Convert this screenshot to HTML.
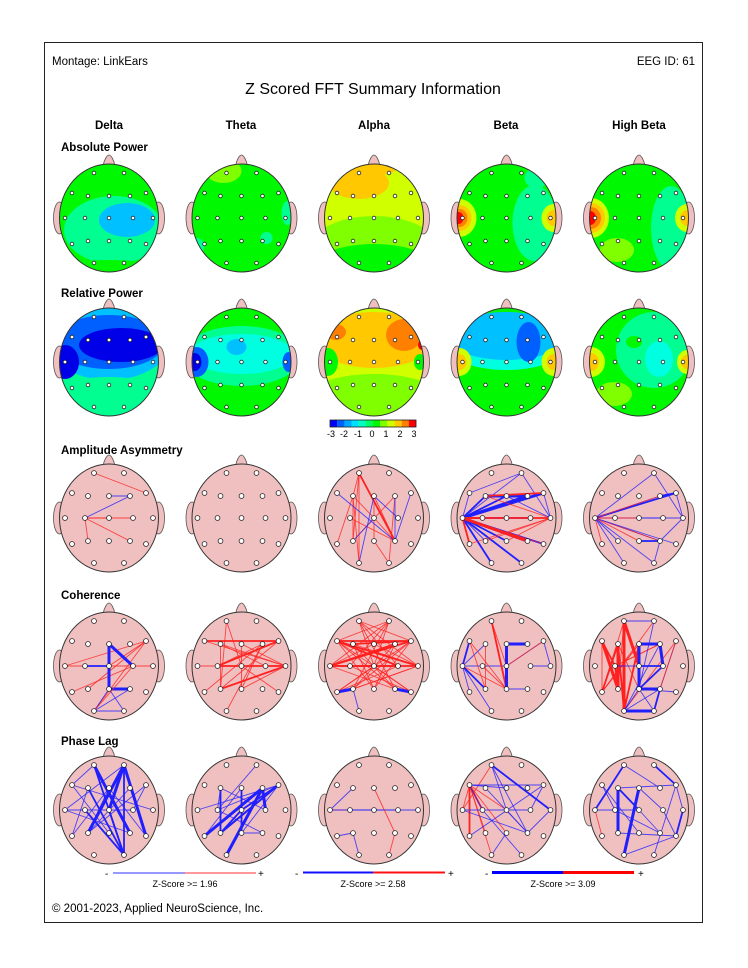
<!DOCTYPE html>
<html><head><meta charset="utf-8"><style>
body{margin:0;background:#fff;width:748px;height:968px;overflow:hidden;font-family:"Liberation Sans",Arial,sans-serif}
svg{position:absolute;left:0;top:0}
</style></head><body>
<svg id="s" width="748" height="968" viewBox="0 0 748 968" font-family="Liberation Sans, Arial, sans-serif">
<rect x="44.5" y="42.5" width="658" height="880" fill="#fff" stroke="#222" stroke-width="1"/>
<text x="52" y="65" font-size="11.5">Montage:  LinkEars</text>
<text x="695" y="65" font-size="11.5" text-anchor="end">EEG ID:  61</text>
<text x="373" y="94" font-size="16" text-anchor="middle">Z Scored FFT Summary Information</text>
<g font-size="11.5" font-weight="bold" text-anchor="middle">
<text x="109" y="129">Delta</text><text x="241" y="129">Theta</text><text x="374" y="129">Alpha</text><text x="506" y="129">Beta</text><text x="639" y="129">High Beta</text>
</g>
<g font-size="11.5" font-weight="bold">
<text x="61" y="151">Absolute Power</text><text x="61" y="297">Relative Power</text><text x="61" y="454">Amplitude Asymmetry</text><text x="61" y="599">Coherence</text><text x="61" y="745">Phase Lag</text>
</g>
<g id="heads"></g>
<g id="cb"></g>
<g font-size="9" text-anchor="middle">
<text x="331" y="437">-3</text><text x="344" y="437">-2</text><text x="358" y="437">-1</text><text x="372" y="437">0</text><text x="386" y="437">1</text><text x="400" y="437">2</text><text x="414" y="437">3</text>
</g>
<g font-size="10">
<text x="105" y="877">-</text><text x="258" y="877">+</text><text x="185" y="887" text-anchor="middle" font-size="9">Z-Score &gt;= 1.96</text>
<text x="295" y="877">-</text><text x="448" y="877">+</text><text x="373" y="887" text-anchor="middle" font-size="9">Z-Score &gt;= 2.58</text>
<text x="485" y="877">-</text><text x="638" y="877">+</text><text x="563" y="887" text-anchor="middle" font-size="9">Z-Score &gt;= 3.09</text>
</g>
<line x1="113" y1="873" x2="185" y2="873" stroke="#3030ff" stroke-width="1"/><line x1="185" y1="873" x2="256" y2="873" stroke="#ff3030" stroke-width="1"/>
<line x1="303" y1="872.5" x2="373" y2="872.5" stroke="#1010ff" stroke-width="2"/><line x1="373" y1="872.5" x2="445" y2="872.5" stroke="#ff1010" stroke-width="2"/>
<line x1="492" y1="872.5" x2="563" y2="872.5" stroke="#0000ff" stroke-width="3"/><line x1="563" y1="872.5" x2="634" y2="872.5" stroke="#ff0000" stroke-width="3"/>
<text x="52" y="912" font-size="11.5">© 2001-2023, Applied NeuroScience, Inc.</text>
</svg>
<script>
var NS="http://www.w3.org/2000/svg";
function el(t,a,p){var e=document.createElementNS(NS,t);for(var k in a)e.setAttribute(k,a[k]);p.appendChild(e);return e;}
var E={Fp1:[-15,-45],Fp2:[15,-45],F7:[-37,-25],F3:[-21,-22],Fz:[0,-22],F4:[21,-22],F8:[37,-25],T3:[-44,0],C3:[-24,0],Cz:[0,0],C4:[24,0],T4:[44,0],T5:[-37,26],P3:[-21,23],Pz:[0,23],P4:[21,23],T6:[37,26],O1:[-15,45],O2:[15,45]};
var CX=[109,241.5,374,506.5,639],CY=[218,362,518,666,810],RX=49.5,RY=54;
var C={B:"#0000e8",b:"#0060ff",c:"#00c0ff",a:"#00ffe0",t:"#00ff90",g:"#00f800",l:"#80ff00",y:"#d0ff00",o:"#ffc800",O:"#ff8000",R:"#ff0000"};
var maps=[
[["g"],["t",5,12,50,34],["c",18,2,28,17],["g",-10,-50,60,14],["g",0,52,60,10]],
[["g"],["l",-18,-47,18,12],["t",46,-5,6,12],["t",25,20,6,6],["t",-45,28,8,8]],
[["y"],["l",0,38,70,40],["g",0,58,70,32],["o",-15,-35,30,16],["o",-5,-52,30,10]],
[["g"],["t",28,5,22,38],["t",30,-40,12,10],["y",-47,0,17,19],["o",-47,0,12,13],["O",-47,0,8,9],["R",-48,0,5,6],["y",47,0,12,14],["o",47,0,7,8]],
[["g"],["t",32,10,20,42],["l",-22,32,17,12],["y",-48,0,18,20],["o",-48,0,14,15],["O",-48,0,10,11],["R",-49,0,6,7],["y",48,0,12,14],["o",48,0,7,8]],
[["t"],["c",0,-22,62,40],["b",0,-20,56,27],["B",12,-17,42,17],["B",-44,0,14,17],["t",0,40,70,25]],
[["g"],["t",0,-6,60,30],["a",0,-8,52,20],["c",-5,-15,10,8],["b",-45,0,12,15],["B",-47,0,7,9],["b",47,0,6,10]],
[["y"],["l",0,38,70,26],["o",0,-22,60,28],["O",30,-27,18,16],["O",-38,-30,10,8],["R",48,-17,4,5],["g",-46,0,10,14],["g",46,0,6,8]],
[["g"],["a",0,-18,62,26],["c",0,-26,60,24],["b",22,-20,12,20],["y",-47,0,12,14],["o",-47,0,7,8],["y",47,0,12,14],["o",47,0,7,8]],
[["g"],["t",15,-12,38,38],["a",20,-3,14,18],["g",-5,-20,8,6],["y",-48,0,14,15],["o",-48,0,8,9],["y",48,0,10,12],["o",48,0,6,7],["l",-25,32,18,12]]
];
var links=[
["r1 Fp1 F8","b1 Fz F4","b1 C3 F4","r1 C3 Cz","r1 C3 C4","r1 C3 P3","r1 C3 P4"],
[],
["r1 Fp1 P3","r1 Fp1 O1","r2 Fp1 P4","r1 Fp1 F3","r1 F3 P3","r1 F3 O1","r1 F3 Cz","r1 Fz P4","r1 Fz Pz","r1 F4 P3","r1 Cz P4","r1 C3 P4","r1 F4 O2","r1 T5 F3","r1 Pz O2","b1 F7 P4","b1 Fz O1","b1 Cz P3","b1 F4 P4","b1 F8 P4","b1 Fz C4"],
["b2 T3 F3","b3 T3 F4","b3 T3 F8","b2 T3 Fz","b1 T3 Fp2","b1 T3 F7","b2 T3 C4","r2 T3 T4","b3 T3 P4","b2 T3 Pz","b2 T3 T6","b2 T3 O2","b2 T3 O1","b1 T3 P3","r3 T3 P4","r2 T3 T5","r1 T3 T6","r2 T3 C3","b3 F3 F4","r1 T4 F3","r1 T4 C3","r1 T4 P3","r1 T4 Pz","b1 T4 Fp2","b1 T4 F8","b1 Fp2 F7","r2 F3 F8","b1 T4 Fz","r1 T4 T5"],
["b1 T3 Fp2","b1 T3 F4","b2 F4 F8","r1 T3 F8","b2 T3 F8","b1 T3 C4","b1 T3 T4","r1 T3 Cz","b1 T3 P4","r1 T3 P4","b1 T3 O2","b1 T3 O1","b1 T3 T6","r1 T3 Pz","b2 Pz P4","b1 T4 F8","b1 T4 P4","b1 T4 Fp2","b1 P4 O2","r1 T3 T5","b1 T3 P3","r1 T3 F4"],
["r1 F8 Cz","r1 F8 T3","r1 F8 P3","r1 F8 O1","r1 C4 T5","r1 T3 T4","b3 Fz Cz","b3 Fz C4","b2 C3 Cz","b3 Cz Pz","b3 Pz P4","b1 Pz O1","b1 O1 O2","b1 Pz O2","b1 O1 P4","r1 C4 O1"],
["r1 F7 T4","r2 C3 T4","r1 F3 T4","r1 T3 T4","r2 P3 T4","r1 Fz T4","r1 T5 F4","r1 Fp1 P3","r1 F3 P3","r1 Fz Pz","r1 C3 F4","r2 F7 F8","r1 P3 F8","r2 C3 F8","r1 O1 F4","r1 Cz T6","r1 Pz T4","r1 Fp1 Cz","r1 F3 C4","r1 Pz F4"],
["r2 F7 F8","r2 F3 F8","r2 T3 F8","r2 T3 F4","r2 T3 T4","r2 C3 C4","r2 F7 T4","r1 Fp1 Cz","r1 Fp2 Cz","r1 Fp1 C4","r1 Fp2 C3","r1 Fp1 P4","r1 Fp2 P3","r1 F7 C4","r1 F3 T4","r1 Fz T3","r1 Fz T4","r1 F4 T3","r1 F4 P3","r1 F3 P4","r1 T3 P4","r1 T4 P3","r1 C3 T6","r1 C4 T5","r1 Cz T5","r1 Cz T6","r1 F7 Pz","r1 F8 Pz","r2 T3 Cz","r2 F7 C4","r1 Fp1 F8","r1 Fp2 F7","r1 F3 Pz","r1 F4 Pz","r1 Fp1 T4","r1 Fp2 T3","r1 F7 P4","r1 F8 P3","b3 T5 P3","b3 P4 T6","b1 P3 O1","r1 P3 T4","r1 T5 F8","r1 T6 F7"],
["b2 F7 T3","b1 F3 T3","b2 T3 P3","b1 T3 T5","b1 T3 O1","b1 T3 Cz","r1 F7 P3","r1 F3 P3","r1 Fp1 Cz","r2 Fp1 Pz","r1 F7 Pz","r1 T3 Pz","r1 C3 Pz","r2 Fz Cz","b3 Fz Pz","b3 Fz F4","b1 Cz F8","r1 Cz F8","b1 C4 T4","b1 T4 F8","b1 Pz P4"],
["r3 F7 P3","r3 F3 P3","r3 Fp1 O1","r2 F3 T5","r3 Fp1 Cz","r2 F7 C3","r2 Fz O1","r1 Fp1 P3","r2 F3 O1","r1 F7 T5","r1 Fp1 T5","r1 T5 Fz","r2 C3 P3","r1 F3 Pz","r1 T5 Fp2","r1 F4 C3","r1 Fz T5","r1 F8 O1","r1 C3 F4","b1 Fp1 Fp2","b3 Fz F4","b3 Fz Pz","b3 Cz Pz","b3 F4 C4","b2 C4 Pz","b3 Pz P4","b3 O1 O2","b2 P4 O2","b1 Pz T6","b1 Pz O1","b1 C3 Cz","b2 Cz C4","b1 F4 O1","b1 P4 O1","b1 Pz O2","b1 F8 P4","r1 F8 P4","b1 Fp2 Pz"],
["b1 Fp1 F7","b3 Fp1 P4","b2 Fp1 O2","b3 Fp2 P3","b3 Fp2 T6","b3 Fp2 Cz","b2 Fp2 O2","b1 Fp2 T3","b1 F7 Pz","b1 F7 T4","b1 F3 T5","b2 F3 O2","b1 F8 P3","b1 F8 C4","b1 T3 C4","b1 T3 P4","b2 Cz O2","b2 C3 O2","b1 T5 Fz","b1 P3 Fz","b1 Fz T6","b1 F4 P3"],
["b1 F3 C3","b2 F3 P3","b3 F4 C4","b3 F4 O1","b3 F4 T5","b2 F8 P3","b2 F8 Cz","b1 F8 C3","b1 Pz F8","b2 P3 F8","b2 Fz Pz","b2 Cz P3","b1 C3 P4","b1 Fz T5","b1 T3 F8","b1 Fp2 C3","b1 F3 C4","b1 Pz P4"],
["b1 T3 F3","r1 T3 C3","r1 T3 Cz","r1 C3 Cz","b1 C3 C4","b1 T3 C4","b1 T4 C4","b1 T5 P3","r1 Fz P4","b1 P3 O1","r1 P4 O2"],
["r1 F7 T3","r2 F7 T5","r2 F7 C3","r1 F7 P3","r1 F7 O1","r1 F7 Pz","r1 F7 Cz","r1 Fp1 T3","b1 F7 C3","b1 F7 Fz","b2 Fp1 T4","b1 F7 F8","b1 T3 C4","b1 Fp1 P4","b1 F3 P4","b1 T5 F8","b1 Cz P4","b1 C3 O2","b1 Fp1 Cz","b1 P4 T4","b1 Pz O1","b1 F8 C4","b1 T3 P4"],
["b3 F3 P3","b2 F3 Cz","b3 Fz O1","b2 Fp1 T3","b1 F7 C3","b1 F7 Pz","b2 Fp2 F8","b1 F8 T4","b2 T4 T6","b1 F8 O2","b1 Fz C4","b1 C4 T6","r1 T3 T5","b1 Fp1 F4","b1 C3 P4","b1 P3 T6","b1 T3 Cz","b1 Cz P4","b1 F3 F8","b1 O1 T6"]
];
var G=document.getElementById("heads");
for(var r=0;r<5;r++)for(var c=0;c<5;c++){
 var x=CX[c],y=CY[r],g=el("g",{transform:"translate("+x+","+y+")"},G);
 var id="h"+r+"_"+c;
 var cp=el("clipPath",{id:id},g);el("ellipse",{cx:0,cy:0,rx:RX,ry:RY},cp);
 el("path",{d:"M-6,-52 C-5,-58 -2,-63 0,-63 C2,-63 5,-58 6,-52 Z",fill:"#f0c0c0",stroke:"#555","stroke-width":0.8},g);
 el("ellipse",{cx:-RX,cy:0,rx:6,ry:16,fill:"#f0c0c0",stroke:"#555","stroke-width":0.8},g);
 el("ellipse",{cx:RX,cy:0,rx:6,ry:16,fill:"#f0c0c0",stroke:"#555","stroke-width":0.8},g);
 if(r<2){
  var m=maps[r*5+c],gg=el("g",{"clip-path":"url(#"+id+")"},g);
  m.forEach(function(b){ if(b.length==1) el("rect",{x:-60,y:-60,width:120,height:120,fill:C[b[0]]},gg);
   else el("ellipse",{cx:b[1],cy:b[2],rx:b[3],ry:b[4],fill:C[b[0]]},gg);});
  el("ellipse",{cx:0,cy:0,rx:RX,ry:RY,fill:"none",stroke:"#333","stroke-width":1},g);
 } else {
  el("ellipse",{cx:0,cy:0,rx:RX,ry:RY,fill:"#f0c0c0",stroke:"#333","stroke-width":1},g);
  links[(r-2)*5+c].forEach(function(s){var p=s.split(" "),a=E[p[1]],b=E[p[2]],w=+p[0][1];
   el("line",{x1:a[0],y1:a[1],x2:b[0],y2:b[1],stroke:p[0][0]=="r"?"#ff2020":"#2020ff","stroke-width":w==1?0.9:w==2?1.8:3,"stroke-opacity":w==1?0.8:1},g);});
 }
 for(var k in E) el("circle",{cx:E[k][0],cy:E[k][1],r:r<2?1.8:2.4,fill:"#fff",stroke:"#222","stroke-width":0.8},g);
}
var cb=document.getElementById("cb"),cols=["#0000ff","#0060ff","#00a8ff","#00e0ff","#00ffc0","#00ff60","#00f800","#80ff00","#d0ff00","#ffc800","#ff8000","#ff0000"];
cols.forEach(function(cl,i){el("rect",{x:330+i*7.17,y:420,width:7.3,height:7,fill:cl},cb);});
el("rect",{x:330,y:420,width:86,height:7,fill:"none",stroke:"#222","stroke-width":0.8},cb);
</script>
</body></html>
